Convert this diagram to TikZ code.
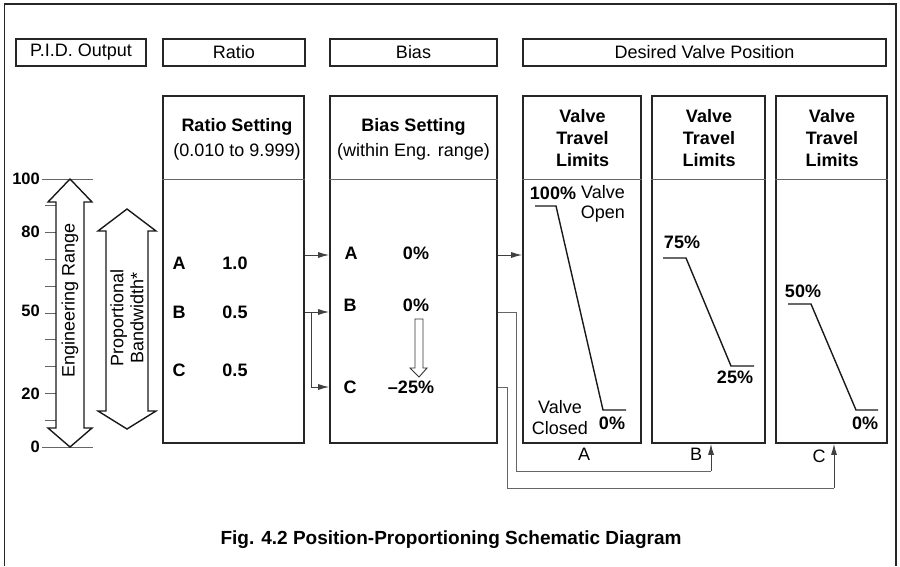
\documentclass[tikz,border=0pt]{standalone}
\usepackage{fontspec}
\setmainfont{Liberation Sans}
\usetikzlibrary{arrows.meta}
\newcommand{\fz}[2]{\fontsize{#1}{#2}\selectfont}
\begin{document}
\begin{tikzpicture}[x=1pt,y=-1pt,
  box/.style={draw=black!85,line width=1.6pt,inner sep=0pt},
  hdrtext/.style={font=\fz{18}{22}},
  btext/.style={font=\fz{18}{22}\bfseries,inner sep=0pt},
  rtext/.style={font=\fz{18}{22},inner sep=0pt},
  num/.style={font=\fz{16.5}{20}\bfseries,inner sep=0pt,anchor=east},
  div/.style={draw=black!60,line width=0.8pt},
  tick/.style={draw=black!60,line width=0.9pt},
  route/.style={draw=black!60,line width=1pt},
  arr/.style={draw=black!75,line width=1pt,-{Latex[length=11pt,width=6pt]}},
  vline/.style={draw=black!90,line width=1.4pt},
  darrow/.style={draw=black!90,line width=1.4pt,line join=miter}
]
\useasboundingbox (0,0) rectangle (900,566);
% frame
\draw[draw=black!85,line width=1.3pt] (4.5,566) -- (4.5,4) -- (896,4) -- (896,566);

% header boxes
\node[box,hdrtext,minimum width=130pt,minimum height=27pt] (pid) at (81,52.5) {P.I.D. Output};
\node[box,hdrtext,minimum width=142pt,minimum height=27pt] (hratio) at (234,52.5) {Ratio};
\node[box,hdrtext,minimum width=167pt,minimum height=27pt] (hbias) at (413.5,52.5) {Bias};
\node[box,hdrtext,minimum width=363pt,minimum height=27pt] (hdvp) at (704.5,52.5) {Desired Valve Position};

% main boxes
\node[box,minimum width=141pt,minimum height=347pt] (ratio) at (233.5,269.5) {};
\node[box,minimum width=167pt,minimum height=347pt] (bias) at (413.5,269.5) {};
\node[box,minimum width=118pt,minimum height=347pt] (va) at (582,269.5) {};
\node[box,minimum width=113pt,minimum height=347pt] (vb) at (708.5,269.5) {};
\node[box,minimum width=111pt,minimum height=347pt] (vc) at (831.5,269.5) {};

\coordinate (dv) at (0,179);
\foreach \b in {ratio,bias,va,vb,vc}
  \draw[div] (\b.west |- dv) -- (\b.east |- dv);

% box headers
\node[btext] (rs1) at (237,127) {Ratio Setting};
\node[rtext] (rs2) at (237,152) {(0.010 to 9.999)};
\node[btext] (bs1) at (413.5,127) {Bias Setting};
\node[rtext] (bs2) at (413.5,152) {(within Eng. range)};
\node[btext,align=center,font=\fz{18}{22}\bfseries] (vta) at (582.5,138) {Valve\\Travel\\Limits};
\node[btext,align=center,font=\fz{18}{22}\bfseries] (vtb) at (709,138) {Valve\\Travel\\Limits};
\node[btext,align=center,font=\fz{18}{22}\bfseries] (vtc) at (832,138) {Valve\\Travel\\Limits};

% ratio values
\node[btext] (ra) at (179,263) {A};
\node[btext] (rav) at (235,263) {1.0};
\node[btext] (rb) at (179,312) {B};
\node[btext] (rbv) at (235,312) {0.5};
\node[btext] (rc) at (179,370) {C};
\node[btext] (rcv) at (235,370) {0.5};

% bias values
\node[btext] (ba) at (351,253) {A};
\node[btext] (bav) at (416,253) {0\%};
\node[btext] (bb) at (350,305) {B};
\node[btext] (bbv) at (416,305) {0\%};
\node[btext] (bc) at (350,387) {C};
\node[btext] (bcv) at (411,387) {–25\%};

% hollow arrow
\draw[draw=black!80,line width=0.9pt,fill=white,line join=miter]
  (415,319) -- (423,319) -- (423,368) -- (427,368) -- (419,377) -- (410,368) -- (415,368) -- cycle;

% connectors
\coordinate (rowA) at (0,255);
\coordinate (rowB) at (0,312);
\coordinate (rowC) at (0,387);
\coordinate (brx) at (311,0);
\draw[arr] (ratio.east |- rowA) -- (bias.west |- rowA);
\draw[arr] (bias.east |- rowA) -- (va.west |- rowA);
\draw[arr] (ratio.east |- rowB) -- (bias.west |- rowB);
\draw[arr] (brx |- rowB) -- (brx |- rowC) -- (bias.west |- rowC);
\coordinate (bx1) at (516,471);
\coordinate (bx2) at (507,488);
\coordinate (tb) at (711,0);
\coordinate (tc) at (834,0);
\draw[route] (bias.east |- rowB) -- (bx1 |- rowB) -- (bx1) -- (tb |- bx1);
\draw[arr] (tb |- bx1) -- (tb |- vb.south);
\draw[route] (bias.east |- rowC) -- (bx2 |- rowC) -- (bx2) -- (tc |- bx2);
\draw[arr] (tc |- bx2) -- (tc |- vc.south);

% valve curves
\draw[vline] (535,206) -- (556,206) -- (603,410) -- (626,410);
\draw[vline] (663,258) -- (686,258) -- (731,366) -- (754,366);
\draw[vline] (788,304) -- (811,304) -- (856,410) -- (878,410);

\node[btext] (p100) at (553,193) {100\%};
\node[rtext,anchor=east] (vo1) at (625,192) {Valve};
\node[rtext,anchor=east] (vo2) at (625,214) {Open};
\node[rtext] (vc1) at (560,407) {Valve};
\node[rtext] (vc2) at (560,428) {Closed};
\node[btext] (p0a) at (612,423) {0\%};
\node[btext] (p75) at (682,242) {75\%};
\node[btext] (p25) at (735,377) {25\%};
\node[btext] (p50) at (803,291) {50\%};
\node[btext] (p0c) at (865,423) {0\%};

\node[rtext] (la) at (584,454) {A};
\node[rtext] (lb) at (696,454) {B};
\node[rtext] (lc) at (819,456) {C};

% axis
\foreach \v in {10,20,...,90}
  \draw[tick] (45,{179+(100-\v)*2.68}) -- (56,{179+(100-\v)*2.68});
\draw[tick] (42,179) -- (93,179);
\draw[tick] (42,447) -- (93,447);
\node[num] (n100) at (40,179) {100};
\node[num] (n80) at (40,232) {80};
\node[num] (n50) at (40,311) {50};
\node[num] (n20) at (40,394) {20};
\node[num] (n0) at (40,447) {0};

% engineering range arrow
\draw[darrow,fill=white] (70,179) -- (92,202) -- (84,202) -- (84,428) -- (92,428) -- (70,447)
  -- (48,428) -- (56,428) -- (56,202) -- (48,202) -- cycle;
\node[rtext,rotate=90] (er) at (70,300) {Engineering Range};

% proportional bandwidth arrow
\draw[darrow,fill=white] (127,209) -- (156,231) -- (148,231) -- (148,411) -- (156,411) -- (127,429)
  -- (98,411) -- (106,411) -- (106,231) -- (98,231) -- cycle;
\node[rtext,rotate=90,align=center,font=\fz{18}{20}] (pb) at (127,318) {Proportional\\Bandwidth*};

% caption
\node[btext,font=\fz{19}{22}\bfseries] (cap) at (451,540) {Fig. 4.2 Position-Proportioning Schematic Diagram};
\end{tikzpicture}
\end{document}
